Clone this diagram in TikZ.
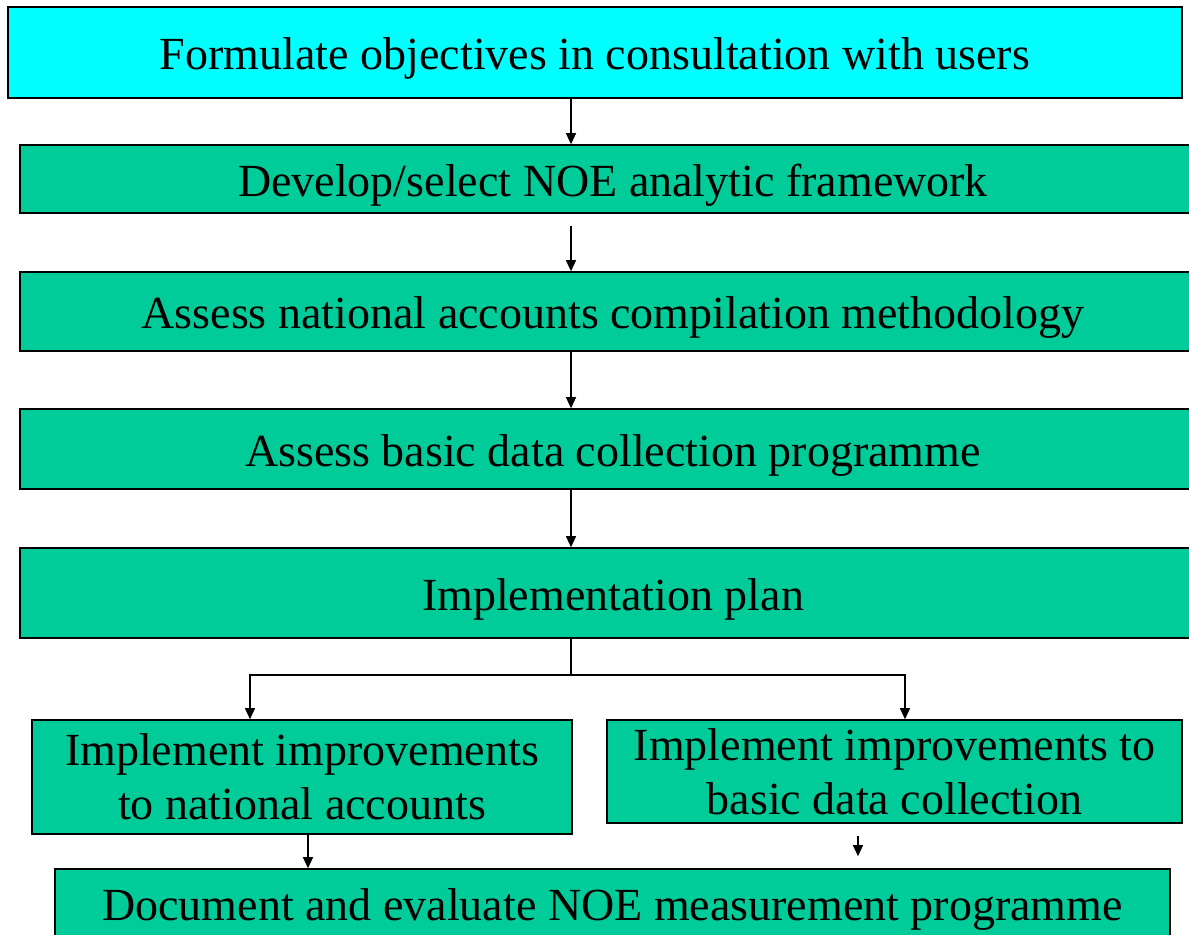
\documentclass[tikz,border=0pt]{standalone}
\usepackage{fontspec}
\setmainfont{Liberation Serif}
\usetikzlibrary{arrows.meta,positioning,calc}
\definecolor{aqua}{RGB}{0,255,255}
\definecolor{seagreen}{RGB}{0,204,153}

\begin{document}
\begin{tikzpicture}[x=0.5pt,y=-0.5pt,>={Triangle[length=5.5pt,width=5pt]},
  every node/.style={font=\fontsize{23pt}{27pt}\selectfont}]
\tikzstyle{box}=[draw=black,line width=.8pt,fill=seagreen,inner sep=0pt,align=center]
\tikzstyle{low}=[text height=19pt,text depth=2pt]
\tikzstyle{link}=[line width=.6pt,->]
\clip (0,0) rectangle (1189,934);
\fill[white] (0,0) rectangle (1189,934);
\node[box,low,fill=aqua,minimum width=587pt,minimum height=45.5pt] (goal) at (595,52.5) {Formulate objectives in consultation with users};
\node[box,low,minimum width=593pt,minimum height=34pt] (frame) at (613,179) {Develop/select NOE analytic framework};
\node[box,low,minimum width=593pt,minimum height=39.5pt] (natacc) at (613,311.5) {Assess national accounts compilation methodology};
\node[box,low,minimum width=593pt,minimum height=40pt] (basic) at (613,449) {Assess basic data collection programme};
\node[box,low,minimum width=593pt,minimum height=45pt] (plan) at (613,593) {Implementation plan};
\node[box,minimum width=270pt,minimum height=57pt] (impna) at (302,777) {Implement improvements\\to national accounts};
\node[box,minimum width=287.5pt,minimum height=51.5pt] (impbd) at (894.5,771.5) {Implement improvements to\\basic data collection};
\node[box,minimum width=557.5pt,minimum height=40.5pt] (doc) at (612.5,909.5) {Document and evaluate NOE measurement programme};
% vertical chain
\coordinate (spine) at (571,0);
\draw[link] (goal.south -| spine) -- (frame.north -| spine);
\draw[link,shorten <=6pt] (frame.south -| spine) -- (natacc.north -| spine);
\draw[link] (natacc.south -| spine) -- (basic.north -| spine);
\draw[link] (basic.south -| spine) -- (plan.north -| spine);
% split to the two improvement boxes
\coordinate (split) at (571,675);
\coordinate (lft) at (250,675);
\coordinate (rgt) at (905,675);
\draw[line width=.6pt] (plan.south -| split) -- (split);
\draw[link] (split) -- (lft) -- (impna.north -| lft);
\draw[link] (split) -- (rgt) -- (impbd.north -| rgt);
% join at the bottom
\coordinate (jl) at (308,0);
\coordinate (jr) at (858,0);
\draw[link] (impna.south -| jl) -- (doc.north -| jl);
\draw[link,shorten <=6pt,shorten >=6pt] (impbd.south -| jr) -- (doc.north -| jr);
\end{tikzpicture}
\end{document}
